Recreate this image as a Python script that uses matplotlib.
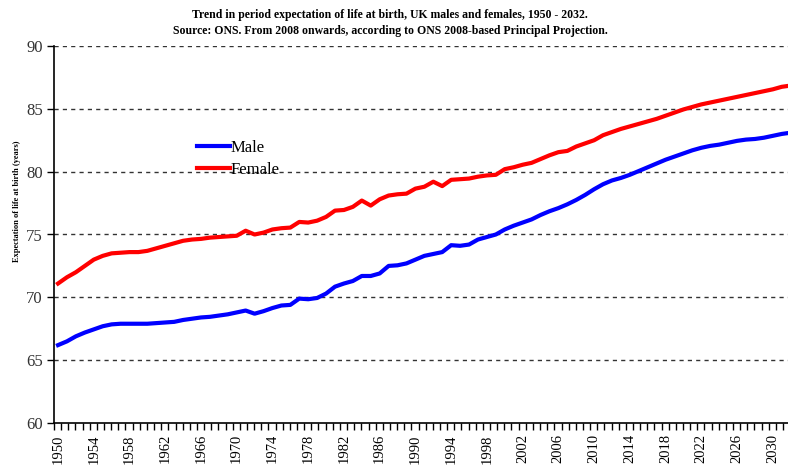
import numpy as np
import matplotlib
matplotlib.use('Agg')
import matplotlib.pyplot as plt
from matplotlib.ticker import FixedLocator

years = list(range(1950, 2033))

male = [
    66.2, 66.5, 66.9, 67.2, 67.45, 67.7, 67.85, 67.9, 67.9, 67.9,
    67.9, 67.95, 68.0, 68.05, 68.2, 68.3, 68.4, 68.45, 68.55, 68.65,
    68.8, 68.95, 68.7, 68.9, 69.15, 69.35, 69.4, 69.9, 69.85, 69.95,
    70.3, 70.85, 71.1, 71.3, 71.7, 71.7, 71.9, 72.5, 72.55, 72.7,
    73.0, 73.3, 73.45, 73.6, 74.15, 74.1, 74.2, 74.6, 74.8, 75.0,
    75.4, 75.7, 75.95, 76.2, 76.55, 76.85, 77.1, 77.4, 77.75, 78.15,
    78.6, 79.0, 79.3, 79.5, 79.75, 80.05, 80.35, 80.65, 80.95, 81.2,
    81.45, 81.7, 81.9, 82.05, 82.15, 82.3, 82.45, 82.55, 82.6, 82.7,
    82.85, 83.0, 83.1,
]

female = [
    71.1, 71.6, 72.0, 72.5, 73.0, 73.3, 73.5, 73.55, 73.6, 73.6,
    73.7, 73.9, 74.1, 74.3, 74.5, 74.6, 74.65, 74.75, 74.8, 74.85,
    74.9, 75.3, 75.0, 75.15, 75.4, 75.5, 75.55, 76.0, 75.95, 76.1,
    76.4, 76.9, 76.95, 77.2, 77.7, 77.3, 77.8, 78.1, 78.2, 78.25,
    78.65, 78.8, 79.2, 78.85, 79.35, 79.4, 79.45, 79.6, 79.7, 79.75,
    80.2, 80.35, 80.55, 80.7, 81.0, 81.3, 81.55, 81.65, 82.0, 82.25,
    82.5, 82.9, 83.15, 83.4, 83.6, 83.8, 84.0, 84.2, 84.45, 84.7,
    84.95, 85.15, 85.35, 85.5, 85.65, 85.8, 85.95, 86.1, 86.25, 86.4,
    86.55, 86.75, 86.85,
]

year_labels = list(range(1950, 2031, 4))

serif = ['Liberation Serif', 'DejaVu Serif']

fig = plt.figure(figsize=(7.88, 4.69), dpi=100)
ax = fig.add_axes([54 / 788, 0.098, 1 - 54 / 788, 0.804])

ax.plot(years, male, color='#0000FF', lw=3, label='Male', zorder=3)
ax.plot(years, female, color='#FF0000', lw=3, label='Female', zorder=3)

xmin, xmax = 1949.55, 2031.7
ax.set_xlim(xmin, xmax)
ax.set_ylim(60, 90)

ax.set_yticks(range(60, 91, 5))
for v in range(65, 91, 5):
    ax.axhline(v, color='#333333', lw=1, ls=(0, (3, 3)), zorder=1)

ax.set_xticks(year_labels)
ax.set_xticklabels([str(y) for y in year_labels], rotation=90,
                   family=serif, fontsize=10.5)
ax.xaxis.set_minor_locator(FixedLocator(np.arange(xmin, xmax, 0.8)))
ax.tick_params(axis='x', which='major', length=0, pad=8)
ax.tick_params(axis='x', which='minor', length=5, width=1, direction='out')
ax.tick_params(axis='y', which='major', length=5, width=1, direction='out',
               labelsize=12, labelcolor='#333333', pad=3)
for lab in ax.get_yticklabels():
    lab.set_family(serif)

for s in ('top', 'right'):
    ax.spines[s].set_visible(False)
for s in ('left', 'bottom'):
    ax.spines[s].set_linewidth(1.2)
    ax.spines[s].set_color('black')

fig.text(0.495, 1 - 23 / 469,
         'Trend in period expectation of life at birth, UK males and females, 1950 - 2032.\n'
         'Source: ONS. From 2008 onwards, according to ONS 2008-based Principal Projection.',
         ha='center', va='center', family=serif, fontweight='bold',
         fontsize=8.5, linespacing=1.4)

fig.text(17 / 788, 1 - 201 / 469, 'Expectation of life at birth (years)',
         rotation=90, ha='center', va='center', family=serif,
         fontweight='bold', fontsize=6)

ax.legend(loc='upper left', bbox_to_anchor=(190 / 788, 1 - 133 / 469),
          bbox_transform=fig.transFigure, frameon=False,
          prop={'family': serif, 'size': 12}, handlelength=2.0,
          handletextpad=0.05, labelspacing=0.35, borderaxespad=0)

fig.savefig('out.png', dpi=100)
